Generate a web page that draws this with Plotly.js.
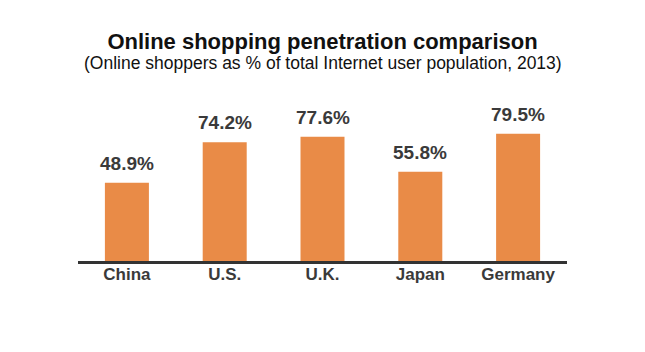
<!DOCTYPE html>
<html><head><meta charset="utf-8">
<script src="https://cdn.plot.ly/plotly-3.0.1.min.js"></script>
<style>html,body{margin:0;padding:0;background:#fff;}#chart{width:645px;height:352px;}</style>
</head><body><div id="chart"></div>
<script>
const categories = ["China", "U.S.", "U.K.", "Japan", "Germany"];
const values = [48.9, 74.2, 77.6, 55.8, 79.5];
const valueLabels = ["48.9%", "74.2%", "77.6%", "55.8%", "79.5%"];
const titleText = "Online shopping penetration comparison";
const subtitleText = "(Online shoppers as % of total Internet user population, 2013)";

const font = "Liberation Sans, Arial, sans-serif";
const trace = {
  type: "bar", x: categories, y: values,
  marker: {color: "#E98B47"},
  hoverinfo: "none", cliponaxis: false
};
const annotations = categories.map((c, i) => ({
  x: c, y: values[i], xref: "x", yref: "y", text: valueLabels[i],
  showarrow: false, yanchor: "bottom", yshift: 7,
  font: {family: font, size: 19, color: "#3a3a3a", weight: "bold"}
}));
annotations.push({
  x: 0.5, y: 63, xref: "paper", yref: "paper", text: subtitleText, showarrow: false,
  xanchor: "center", yanchor: "middle", font: {family: font, size: 17.5, color: "#111"}
});
const layout = {
  width: 645, height: 352,
  margin: {l: 78, r: 78, t: 101, b: 91},
  paper_bgcolor: "#fff", plot_bgcolor: "#fff",
  showlegend: false, bargap: 0.55,
  title: {text: "<b>" + titleText + "</b>", x: 0.5, xanchor: "center", xref: "paper",
    y: 1 - 41/352, yanchor: "middle", yref: "container",
    font: {family: font, size: 22, color: "#111"}},
  xaxis: {showline: true, linecolor: "#333", linewidth: 2.5, ticks: "", showgrid: false,
    ticklabelstandoff: -4,
    tickfont: {family: font, size: 17, color: "#3a3a3a", weight: "bold"}, fixedrange: true},
  yaxis: {range: [0, 100], visible: false, showgrid: false, zeroline: false, fixedrange: true},
  annotations: annotations
};
const plotH = 352 - 101 - 91;
annotations[annotations.length - 1].y = (352 - 91 - 63) / plotH;
Plotly.newPlot("chart", [trace], layout, {displayModeBar: false, staticPlot: true});
</script></body></html>
